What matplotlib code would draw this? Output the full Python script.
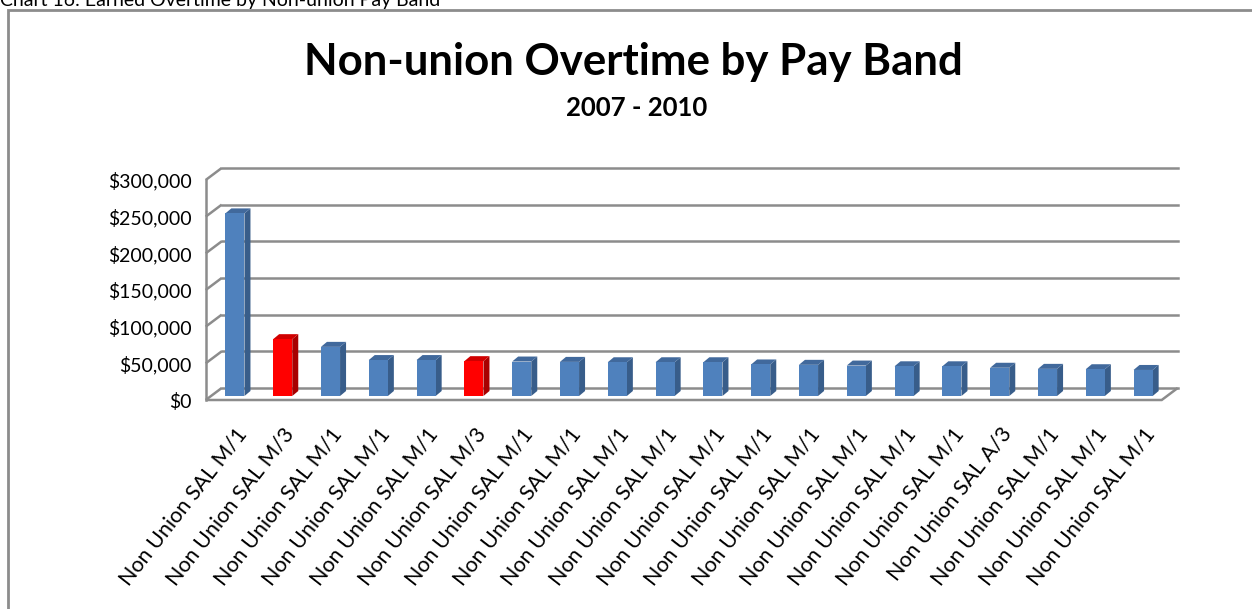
import matplotlib
matplotlib.use("Agg")
import matplotlib.pyplot as plt
import matplotlib.transforms as mtransforms
from matplotlib.patches import Polygon, Rectangle

# ---------- data ----------
categories = [
    "Non Union SAL M/1", "Non Union SAL M/3", "Non Union SAL M/1", "Non Union SAL M/1",
    "Non Union SAL M/1", "Non Union SAL M/3", "Non Union SAL M/1", "Non Union SAL M/1",
    "Non Union SAL M/1", "Non Union SAL M/1", "Non Union SAL M/1", "Non Union SAL M/1",
    "Non Union SAL M/1", "Non Union SAL M/1", "Non Union SAL M/1", "Non Union SAL M/1",
    "Non Union SAL A/3", "Non Union SAL M/1", "Non Union SAL M/1", "Non Union SAL M/1",
]
overtime = [249000, 77500, 67000, 49000, 49000, 47500, 47000, 46500, 46000, 46000,
            46000, 43000, 42500, 41500, 40500, 40500, 38500, 37000, 36500, 35500]
highlight = [1, 5]
y_ticks = [0, 50000, 100000, 150000, 200000, 250000, 300000]
y_labels = ["$0", "$50,000", "$100,000", "$150,000", "$200,000", "$250,000", "$300,000"]

plt.rcParams['font.family'] = ['Lato', 'DejaVu Sans']

W, H = 1252, 609
fig = plt.figure(figsize=(W / 100, H / 100), dpi=100)

BLUE, BLUE_SIDE, BLUE_TOP = '#4f81bd', '#385d8a', '#41699c'
RED, RED_SIDE, RED_TOP = '#ff0000', '#a80000', '#d00000'
GRID = '#8c8c8c'

# axes = bar front plane
ax = fig.add_axes([211 / W, (H - 396) / H, 956 / W, 220 / H])
ax.set_xlim(-0.5, 19.5)
ax.set_ylim(0, 300000)
for s in ax.spines.values():
    s.set_visible(False)

# depth offsets in pixels (y up)
back = (10.7, 8)
front = (-5.3, -4)
bar_depth = (6, 5)
tr_back = ax.transData + mtransforms.Affine2D().translate(*back)
tr_front = ax.transData + mtransforms.Affine2D().translate(*front)

def disp(x, y, off=(0, 0)):
    px, py = ax.transData.transform((x, y))
    return (px + off[0], py + off[1])

ident = mtransforms.IdentityTransform()

# back wall gridlines and left wall
for v in y_ticks:
    ax.plot([-0.5, 19.5], [v, v], transform=tr_back, color=GRID, lw=1.8,
            clip_on=False, zorder=1)
    ax.add_patch(Polygon([disp(-0.5, v, front), disp(-0.5, v, back)], closed=False,
                         transform=ident, fill=False, ec=GRID, lw=1.8,
                         clip_on=False, zorder=1))
# left front vertical edge
ax.plot([-0.5, -0.5], [0, 300000], transform=tr_front, color=GRID, lw=1.8,
        clip_on=False, zorder=1)
# floor outline
ax.add_patch(Polygon([disp(-0.5, 0, front), disp(19.5, 0, front), disp(19.5, 0, back)],
                     closed=False, transform=ident, fill=False, ec=GRID, lw=1.8,
                     clip_on=False, zorder=1))

# bars
x = list(range(len(categories)))
colors = [RED if i in highlight else BLUE for i in x]
bars = ax.bar(x, overtime, width=0.4, color=colors, zorder=5, clip_on=False)
for i, rect in enumerate(bars):
    x0, w, h = rect.get_x(), rect.get_width(), rect.get_height()
    side = RED_SIDE if i in highlight else BLUE_SIDE
    top = RED_TOP if i in highlight else BLUE_TOP
    ax.add_patch(Polygon([disp(x0 + w, 0), disp(x0 + w, h), disp(x0 + w, h, bar_depth),
                          disp(x0 + w, 0, bar_depth)], transform=ident, fc=side,
                         ec='none', zorder=4, clip_on=False))
    ax.add_patch(Polygon([disp(x0, h), disp(x0 + w, h), disp(x0 + w, h, bar_depth),
                          disp(x0, h, bar_depth)], transform=ident, fc=top,
                         ec='none', zorder=4, clip_on=False))

# ticks
ax.set_yticks(y_ticks, y_labels, fontsize=14)
ax.tick_params(axis='y', length=0, pad=10)
for lbl in ax.get_yticklabels():
    lbl.set_transform(lbl.get_transform() + mtransforms.Affine2D().translate(*front))
ax.set_xticks(x, categories, fontsize=15.5, rotation=52, ha='right', va='top',
              rotation_mode='anchor')
ax.tick_params(axis='x', length=0, pad=20)

# titles
fig.text(633 / W, 1 - 62 / H, "Non-union Overtime by Pay Band", ha='center', va='center',
         fontsize=31.5, fontweight='bold')
fig.text(637 / W, 1 - 108 / H, "2007 - 2010", ha='center', va='center',
         fontsize=18.5, fontweight='bold')
fig.text(0, 1 - 6 / H, "Chart 16: Earned Overtime by Non-union Pay Band", ha='left',
         va='baseline', fontsize=14)

# frame
fig.patches.append(Rectangle((8 / W, -0.05), 1.2, 1 - 10 / H + 0.05, transform=fig.transFigure,
                             fill=False, ec='#8c8c8c', lw=2))

fig.savefig("out.png", dpi=100)
